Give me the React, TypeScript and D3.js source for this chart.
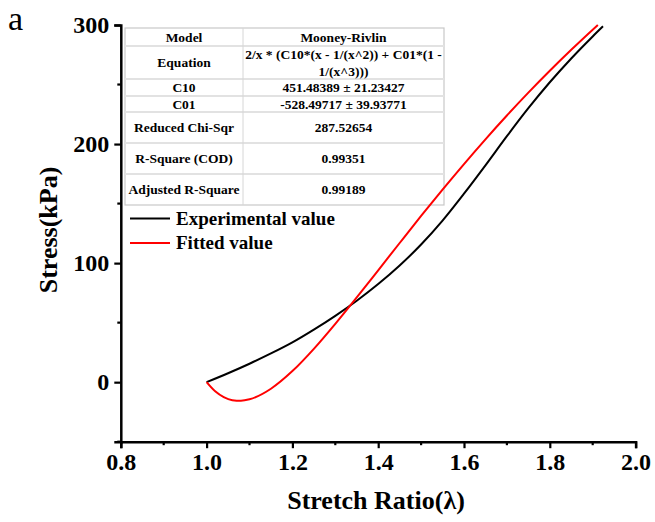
import { useEffect, useRef } from "react";
import * as d3 from "d3";

// experimental curve
const expLambda = [1.0, 1.05, 1.1, 1.15, 1.2, 1.25, 1.3, 1.35, 1.4, 1.45, 1.5, 1.55, 1.6, 1.65, 1.7, 1.75, 1.8, 1.85, 1.9, 1.924];
const expStress = [0, 7.5, 15.5, 24.1, 33.4, 44.1, 55.7, 68.4, 82.4, 98.0, 115.6, 135.7, 158.3, 182.1, 206.6, 230.1, 251.9, 271.9, 290.4, 298.9];

// fitted Mooney-Rivlin curve
const fitLambda = [1.0, 1.02, 1.04, 1.06, 1.08, 1.1, 1.15, 1.2, 1.25, 1.3, 1.35, 1.4, 1.45, 1.5, 1.55, 1.6, 1.65, 1.7, 1.75, 1.8, 1.85, 1.9, 1.912];
const fitStress = [0, -7.7, -12.6, -15.1, -15.6, -14.4, -5.5, 9.3, 28.0, 49.0, 71.2, 94.0, 116.9, 139.6, 161.7, 183.2, 204.0, 224.0, 243.2, 261.6, 279.2, 296.1, 300];

const xTicks = [0.8, 1.0, 1.2, 1.4, 1.6, 1.8, 2.0];
const yTicks = [0, 100, 200, 300];

const tableLabels = ["Model", "Equation", "C10", "C01", "Reduced Chi-Sqr", "R-Square (COD)", "Adjusted R-Square"];
const tableValues = [
  ["Mooney-Rivlin"],
  ["2/x * (C10*(x - 1/(x^2)) + C01*(1 -", "1/(x^3)))"],
  ["451.48389 \u00b1 21.23427"],
  ["-528.49717 \u00b1 39.93771"],
  ["287.52654"],
  ["0.99351"],
  ["0.99189"],
];

const legendNames = ["Experimental value", "Fitted value"];
const legendColors = ["#000000", "#ff0000"];

const FONT = "'Liberation Serif', 'Times New Roman', serif";

export default function App() {
  const ref = useRef<SVGSVGElement>(null);

  useEffect(() => {
    if (!ref.current) return;
    const svg = d3.select(ref.current);
    svg.selectAll("*").remove();

    const x = d3.scaleLinear().domain([0.8, 2.0]).range([120.8, 635.6]);
    const y = d3.scaleLinear().domain([-50, 300]).range([441.7, 25]);

    // table (drawn first so curves sit over it)
    const tb = svg.append("g");
    const tLeft = 125, tRight = 444, tMid = 243;
    const rowEdges = [28, 46, 79, 96, 112, 143, 174, 205];
    tb.append("rect")
      .attr("x", tLeft).attr("y", rowEdges[0])
      .attr("width", tRight - tLeft).attr("height", rowEdges[7] - rowEdges[0])
      .attr("fill", "#fff").attr("stroke", "#c8c8c8").attr("stroke-width", 1.2);
    rowEdges.slice(1, -1).forEach((ry) => {
      tb.append("line")
        .attr("x1", tLeft).attr("x2", tRight).attr("y1", ry).attr("y2", ry)
        .attr("stroke", "#e2e2e2").attr("stroke-width", 2);
    });
    tb.append("line")
      .attr("x1", tMid).attr("x2", tMid).attr("y1", rowEdges[0]).attr("y2", rowEdges[7])
      .attr("stroke", "#d6d6d6").attr("stroke-width", 1);

    tableLabels.forEach((lab, i) => {
      const cy = (rowEdges[i] + rowEdges[i + 1]) / 2;
      tb.append("text")
        .attr("x", (tLeft + tMid) / 2).attr("y", cy).attr("dy", "0.35em")
        .attr("text-anchor", "middle")
        .style("font-family", FONT).style("font-weight", "bold").style("font-size", "13.5px")
        .text(lab);
      const vals = tableValues[i];
      vals.forEach((v, j) => {
        tb.append("text")
          .attr("x", (tMid + tRight) / 2)
          .attr("y", cy + (j - (vals.length - 1) / 2) * 17)
          .attr("dy", "0.35em")
          .attr("text-anchor", "middle")
          .style("font-family", FONT).style("font-weight", "bold").style("font-size", "13.5px")
          .text(v);
      });
    });

    // axes
    const xAxis = d3.axisBottom(x).tickValues(xTicks).tickSize(6.5).tickPadding(5)
      .tickFormat((d) => d3.format(".1f")(d as number));
    const gx = svg.append("g").attr("transform", `translate(0,${y(-50)})`).call(xAxis);
    gx.select(".domain").attr("stroke-width", 2.5);
    gx.selectAll(".tick line").attr("stroke-width", 2.2);
    gx.selectAll("text")
      .style("font-family", FONT).style("font-weight", "bold").style("font-size", "24px")
      .attr("fill", "#000");

    const xMinor = d3.range(0.9, 2.0, 0.2);
    svg.append("g").selectAll("line").data(xMinor).join("line")
      .attr("x1", (d) => x(d)).attr("x2", (d) => x(d))
      .attr("y1", y(-50)).attr("y2", y(-50) + 3.5)
      .attr("stroke", "#000").attr("stroke-width", 2.2);

    const yAxis = d3.axisLeft(y).tickValues(yTicks).tickSize(6.5).tickPadding(5);
    const gy = svg.append("g").attr("transform", `translate(${x(0.8)},0)`).call(yAxis);
    gy.select(".domain").attr("stroke-width", 2.5);
    gy.selectAll(".tick line").attr("stroke-width", 2.2);
    gy.selectAll("text")
      .style("font-family", FONT).style("font-weight", "bold").style("font-size", "24px")
      .attr("fill", "#000");

    const yMinor = [-50, 50, 150, 250];
    svg.append("g").selectAll("line").data(yMinor).join("line")
      .attr("x1", x(0.8)).attr("x2", x(0.8) - 3.5)
      .attr("y1", (d) => y(d)).attr("y2", (d) => y(d))
      .attr("stroke", "#000").attr("stroke-width", 2.2);

    // axis titles
    svg.append("text")
      .attr("x", 376).attr("y", 509)
      .attr("text-anchor", "middle")
      .style("font-family", FONT).style("font-weight", "bold").style("font-size", "26px")
      .text("Stretch Ratio(\u03bb)");
    svg.append("text")
      .attr("transform", `translate(57,230) rotate(-90)`)
      .attr("text-anchor", "middle")
      .style("font-family", FONT).style("font-weight", "bold").style("font-size", "26px")
      .text("Stress(kPa)");

    svg.append("text")
      .attr("x", 8).attr("y", 30)
      .style("font-family", FONT).style("font-size", "34px")
      .text("a");

    // curves
    const line = d3.line<[number, number]>()
      .x((d) => x(d[0]))
      .y((d) => y(d[1]))
      .curve(d3.curveMonotoneX);

    svg.append("path")
      .datum(expLambda.map((l, i) => [l, expStress[i]] as [number, number]))
      .attr("d", line)
      .attr("fill", "none").attr("stroke", legendColors[0]).attr("stroke-width", 2);

    svg.append("path")
      .datum(fitLambda.map((l, i) => [l, fitStress[i]] as [number, number]))
      .attr("d", line)
      .attr("fill", "none").attr("stroke", legendColors[1]).attr("stroke-width", 2);

    // legend
    const lg = svg.append("g");
    legendNames.forEach((name, i) => {
      const ly = 218.5 + i * 24.5;
      lg.append("line")
        .attr("x1", 130).attr("x2", 170).attr("y1", ly).attr("y2", ly)
        .attr("stroke", legendColors[i]).attr("stroke-width", 2);
      lg.append("text")
        .attr("x", 176).attr("y", ly).attr("dy", "0.33em")
        .style("font-family", FONT).style("font-weight", "bold").style("font-size", "19px")
        .text(name);
    });
  }, []);

  return (
    <svg
      ref={ref}
      width={655}
      height={522}
      style={{ position: "absolute", left: 0, top: 0, background: "#fff" }}
    />
  );
}
